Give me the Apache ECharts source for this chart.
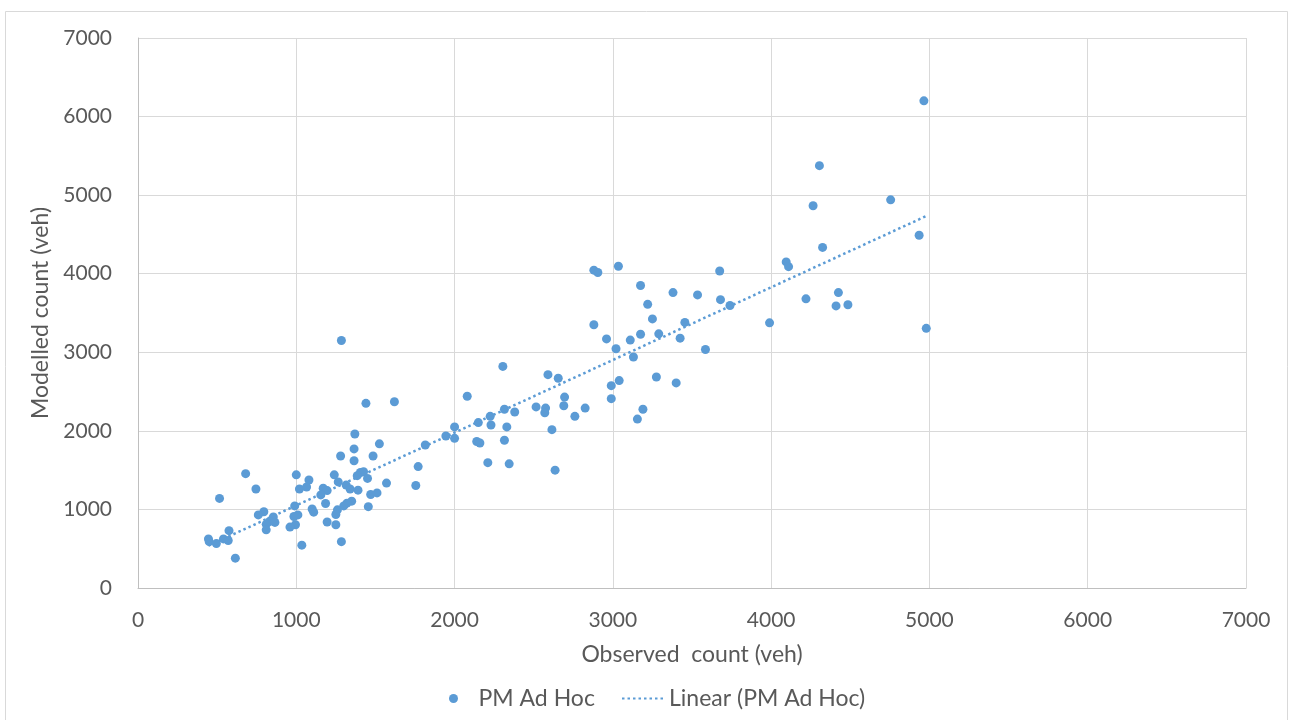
<!DOCTYPE html>
<html>
<head>
<meta charset="utf-8">
<script src="https://cdn.jsdelivr.net/npm/echarts@6/dist/echarts.min.js"></script>
<style>
  html, body { margin: 0; padding: 0; background: #ffffff; }
  #chart { width: 1289px; height: 720px; }
</style>
</head>
<body>
<div id="chart"></div>
<script>
// Observed vs modelled PM ad hoc counts (veh)
const observed = [
  1440, 1620, 2000, 1945, 2000, 1370, 1365, 1525, 1280, 1365,
  1485, 1815, 1770, 1755, 680, 745, 515, 1000, 1080, 1020,
  1065, 1240, 1265, 1315, 1340, 1390, 1405, 1425, 1385, 1450,
  1170, 1195, 1155, 1185, 1470, 1510, 1570, 1455, 1350, 1320,
  1300, 1260, 1250, 1195, 1250, 1285, 1100, 1110, 990, 1010,
  985, 995, 960, 1035, 795, 760, 855, 830, 865, 810,
  810, 575, 540, 570, 445, 450, 495, 615,
  3175, 3380, 3535, 3680, 3740, 3220, 3250, 3455, 2880, 2960,
  3110, 3175, 3290, 3425, 3020, 3130, 3585, 2305, 2590, 2655,
  2990, 3040, 3275, 3400, 2080, 2695, 2990, 2315, 2380, 2515,
  2575, 2570, 2690, 2825, 2760, 3190, 3155, 2225, 2150, 2230,
  2330, 2615, 2140, 2160, 2315, 2210, 2345, 2635,
  4965, 4305, 4265, 4755, 4935, 4325, 4095, 4110, 2880, 2905,
  3035, 3675, 3990, 4220, 4425, 4410, 4485, 4980,
  1285
];
const modelled = [
  2350, 2370, 2050, 1935, 1905, 1960, 1770, 1835, 1680, 1620,
  1680, 1820, 1545, 1305, 1455, 1260, 1140, 1440, 1375, 1260,
  1285, 1440, 1350, 1310, 1260, 1245, 1470, 1480, 1430, 1395,
  1270, 1240, 1185, 1075, 1190, 1210, 1335, 1035, 1105, 1080,
  1045, 995, 935, 840, 805, 590, 1005, 965, 1045, 930,
  910, 805, 775, 545, 970, 930, 905, 845, 835, 810,
  740, 730, 625, 605, 625, 590, 565, 380,
  3850, 3760, 3730, 3670, 3595, 3610, 3425, 3380, 3350, 3170,
  3155, 3230, 3235, 3180, 3045, 2940, 3035, 2820, 2715, 2670,
  2575, 2640, 2685, 2610, 2440, 2430, 2410, 2275, 2240, 2305,
  2290, 2230, 2320, 2290, 2185, 2275, 2150, 2185, 2105, 2075,
  2050, 2015, 1865, 1845, 1880, 1595, 1580, 1500,
  6200, 5375, 4865, 4940, 4490, 4335, 4150, 4090, 4045, 4015,
  4095, 4035, 3375, 3680, 3760, 3590, 3605, 3305,
  3150
];
const axisTicks = [0, 1000, 2000, 3000, 4000, 5000, 6000, 7000];
const seriesName = 'PM Ad Hoc';
const trendName = 'Linear (PM Ad Hoc)';
const xTitle = 'Observed  count (veh)';
const yTitle = 'Modelled count (veh)';

const points = observed.map((x, i) => [x, modelled[i]]);

// Least-squares linear trendline over the observed range
function linearFit(xs, ys) {
  const n = xs.length;
  let sx = 0, sy = 0, sxx = 0, sxy = 0;
  for (let i = 0; i < n; i++) {
    sx += xs[i]; sy += ys[i];
    sxx += xs[i] * xs[i]; sxy += xs[i] * ys[i];
  }
  const slope = (n * sxy - sx * sy) / (n * sxx - sx * sx);
  const intercept = (sy - slope * sx) / n;
  return { slope, intercept };
}
const fit = linearFit(observed, modelled);
const xMin = Math.min(...observed);
const xMax = Math.max(...observed);
const trend = [
  [xMin, fit.intercept + fit.slope * xMin],
  [xMax, fit.intercept + fit.slope * xMax]
];

const FONT = 'Lato, "Open Sans", sans-serif';
const TEXT = '#595959';
const BLUE = '#5b9bd5';

const chart = echarts.init(document.getElementById('chart'), null, { renderer: 'canvas' });

const axisCommon = {
  type: 'value',
  min: axisTicks[0],
  max: axisTicks[axisTicks.length - 1],
  interval: axisTicks[1] - axisTicks[0],
  axisLine: { show: true, lineStyle: { color: '#bfbfbf', width: 1 } },
  axisTick: { show: false },
  splitLine: { show: true, lineStyle: { color: '#d9d9d9', width: 1 } },
  axisLabel: {
    color: TEXT, fontFamily: FONT, fontSize: 21,
    showMinLabel: true, showMaxLabel: true,
    formatter: (v) => String(v)
  },
  nameLocation: 'middle',
  nameTextStyle: { color: TEXT, fontFamily: FONT, fontSize: 23 }
};

chart.setOption({
  animation: false,
  backgroundColor: '#ffffff',
  graphic: [{
    type: 'rect',
    shape: { x: 5.5, y: 11.5, width: 1282, height: 720 },
    style: { fill: 'none', stroke: '#d9d9d9', lineWidth: 1 },
    silent: true,
    z: -10
  }],
  grid: { left: 138, top: 38, right: 43, bottom: 132, containLabel: false },
  xAxis: Object.assign({}, axisCommon, {
    name: xTitle,
    nameGap: 55,
    axisLabel: Object.assign({}, axisCommon.axisLabel, { margin: 22 })
  }),
  yAxis: Object.assign({}, axisCommon, {
    name: yTitle,
    nameGap: 80,
    axisLabel: Object.assign({}, axisCommon.axisLabel, { margin: 26 })
  }),
  legend: [{
    data: [{ name: seriesName, icon: 'circle' }],
    left: 444,
    top: 682,
    itemWidth: 40,
    itemHeight: 9,
    textStyle: { color: TEXT, fontFamily: FONT, fontSize: 23 }
  }, {
    data: [{ name: trendName, itemStyle: { opacity: 0 } }],
    left: 616,
    top: 682,
    itemWidth: 42,
    itemHeight: 14,
    textStyle: { color: TEXT, fontFamily: FONT, fontSize: 23 }
  }],
  series: [{
    name: seriesName,
    type: 'scatter',
    data: points,
    symbol: 'circle',
    symbolSize: 9,
    itemStyle: { color: BLUE, opacity: 1 },
    z: 3
  }, {
    name: trendName,
    type: 'line',
    data: trend,
    symbol: 'none',
    lineStyle: { color: BLUE, width: 2.5, type: [2.5, 3] },
    itemStyle: { color: BLUE },
    z: 2
  }]
});
</script>
</body>
</html>
